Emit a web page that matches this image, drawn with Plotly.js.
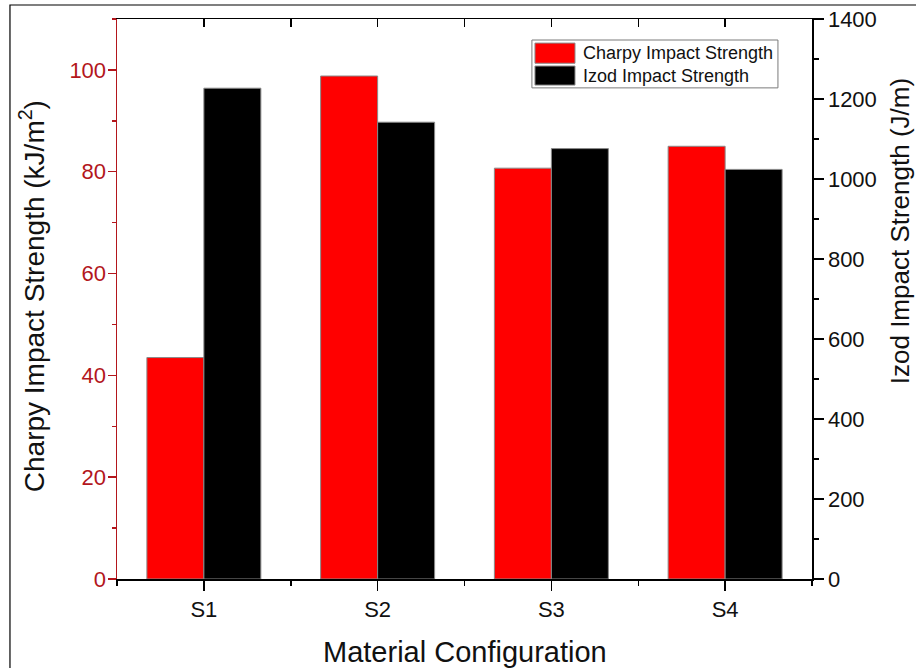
<!DOCTYPE html>
<html>
<head>
<meta charset="utf-8">
<script src="https://cdn.plot.ly/plotly-3.0.1.min.js"></script>
<style>
  html, body { margin: 0; padding: 0; background: #ffffff; }
  #chart { width: 916px; height: 668px; }
</style>
</head>
<body>
<div id="chart"></div>
<script>
// Impact strength of the four material configurations
const configs = ['S1', 'S2', 'S3', 'S4'];
const charpy = [43.5, 98.8, 80.7, 85.0];      // kJ/m²
const izod = [1227, 1142, 1076, 1024];        // J/m
const charpyName = 'Charpy Impact Strength';
const izodName = 'Izod Impact Strength';
const leftTicks = [0, 20, 40, 60, 80, 100];
const rightTicks = [0, 200, 400, 600, 800, 1000, 1200, 1400];
const xTitle = 'Material Configuration';
const leftTitle = 'Charpy Impact Strength (kJ/m<sup>2</sup>)';
const rightTitle = 'Izod Impact Strength (J/m)';

const FONT = '"Liberation Sans", Arial, Helvetica, sans-serif';
const RED_AXIS = '#b3161c';
const xPos = configs.map((_, i) => i);
const BAR_W = 0.328;

const traces = [
  {
    type: 'bar', name: charpyName, x: xPos, y: charpy,
    xaxis: 'x', yaxis: 'y',
    width: BAR_W, offset: -BAR_W,
    marker: { color: '#ff0000', line: { color: '#8a8a8a', width: 1 } },
    hoverinfo: 'y'
  },
  {
    type: 'bar', name: izodName, x: xPos, y: izod,
    xaxis: 'x2', yaxis: 'y2',
    width: BAR_W, offset: 0,
    marker: { color: '#000000', line: { color: '#8a8a8a', width: 1 } },
    hoverinfo: 'y'
  }
];

// legend box geometry (paper units)
const lg = { x0: 0.597, x1: 0.951, y0: 0.877, y1: 0.9625 };
const sw = [
  { x0: 0.6014, x1: 0.659, y0: 0.921, y1: 0.957, color: '#ff0000', label: charpyName, ty: 0.939 },
  { x0: 0.6014, x1: 0.659, y0: 0.882, y1: 0.916, color: '#000000', label: izodName, ty: 0.899 }
];

const shapes = [
  // outer frame
  { type: 'path', xref: 'paper', yref: 'paper',
    path: 'M -0.154,-0.2 L -0.154,1.025 L 1.2,1.025',
    line: { color: '#000000', width: 1.2 } },
  // legend frame
  { type: 'rect', xref: 'paper', yref: 'paper',
    x0: lg.x0, x1: lg.x1, y0: lg.y0, y1: lg.y1,
    line: { color: '#7a7a7a', width: 1 }, fillcolor: 'rgba(255,255,255,0)' }
];
sw.forEach(s => shapes.push({
  type: 'rect', xref: 'paper', yref: 'paper',
  x0: s.x0, x1: s.x1, y0: s.y0, y1: s.y1,
  line: { color: '#8a8a8a', width: 1 }, fillcolor: s.color
}));

const annotations = [
  { text: xTitle, xref: 'paper', yref: 'paper', x: 0.5, y: -0.131,
    xanchor: 'center', yanchor: 'middle', showarrow: false,
    font: { family: FONT, size: 29, color: '#111111' } },
  { text: leftTitle, xref: 'paper', yref: 'paper', x: -0.1223, y: 0.505,
    xanchor: 'center', yanchor: 'middle', textangle: -90, showarrow: false,
    font: { family: FONT, size: 28, color: '#111111' } },
  { text: rightTitle, xref: 'paper', yref: 'paper', x: 1.1266, y: 0.621,
    xanchor: 'center', yanchor: 'middle', textangle: -90, showarrow: false,
    font: { family: FONT, size: 26, color: '#111111' } }
];
sw.forEach(s => annotations.push({
  text: s.label, xref: 'paper', yref: 'paper', x: 0.6676, y: s.ty,
  xanchor: 'left', yanchor: 'middle', showarrow: false,
  font: { family: FONT, size: 18, color: '#111111' }
}));

const layout = {
  width: 916, height: 668,
  margin: { l: 117, r: 104, t: 19, b: 89, pad: 0 },
  paper_bgcolor: '#ffffff', plot_bgcolor: '#ffffff',
  showlegend: false,
  font: { family: FONT, color: '#111111' },
  xaxis: {
    range: [-0.5, 3.5], tickmode: 'array', tickvals: xPos, ticktext: configs,
    showline: true, linecolor: '#000000', linewidth: 1.5,
    ticks: 'outside', ticklen: 10, tickwidth: 1.5, tickcolor: '#000000',
    minor: { ticks: 'outside', ticklen: 5, tickwidth: 1.5, tickcolor: '#000000',
             tickmode: 'linear', tick0: 0.5, dtick: 1 },
    tickfont: { family: FONT, size: 22, color: '#111111' },
    showgrid: false, zeroline: false, fixedrange: true
  },
  xaxis2: {
    overlaying: 'x', side: 'top', anchor: 'y2',
    range: [-0.5, 3.5], tickmode: 'linear', tick0: 0, dtick: 0.5,
    showticklabels: false,
    showline: true, linecolor: '#000000', linewidth: 1.5,
    ticks: 'inside', ticklen: 8, tickwidth: 1.5, tickcolor: '#000000',
    showgrid: false, zeroline: false, fixedrange: true
  },
  yaxis: {
    range: [0, 110], tickmode: 'array', tickvals: leftTicks,
    showline: true, linecolor: RED_AXIS, linewidth: 1.5,
    ticks: 'outside', ticklen: 8, tickwidth: 1.5, tickcolor: RED_AXIS,
    ticklabelstandoff: -3,
    minor: { ticks: 'outside', ticklen: 4, tickwidth: 1.5, tickcolor: RED_AXIS,
             tickmode: 'linear', tick0: 10, dtick: 20 },
    tickfont: { family: FONT, size: 22, color: RED_AXIS },
    showgrid: false, zeroline: false, fixedrange: true
  },
  yaxis2: {
    overlaying: 'y', side: 'right', anchor: 'x2',
    range: [0, 1400], tickmode: 'array', tickvals: rightTicks,
    showline: true, linecolor: '#000000', linewidth: 1.5,
    ticks: 'outside', ticklen: 10, tickwidth: 1.5, tickcolor: '#000000',
    minor: { ticks: 'outside', ticklen: 5, tickwidth: 1.5, tickcolor: '#000000',
             tickmode: 'linear', tick0: 100, dtick: 200 },
    tickfont: { family: FONT, size: 22, color: '#111111' },
    showgrid: false, zeroline: false, fixedrange: true
  },
  shapes: shapes,
  annotations: annotations
};

Plotly.newPlot('chart', traces, layout, { displayModeBar: false, staticPlot: true });
</script>
</body>
</html>
